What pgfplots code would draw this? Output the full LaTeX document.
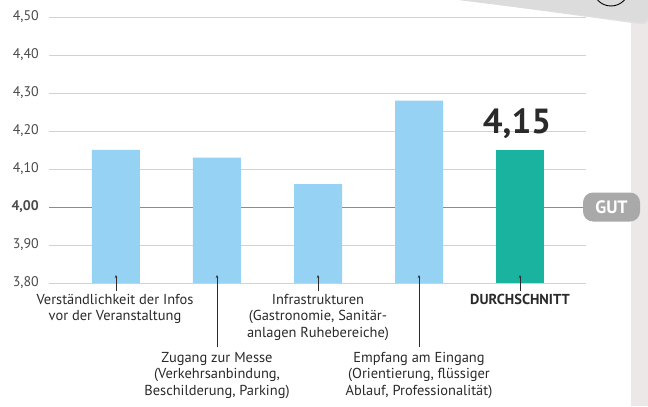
\documentclass[border=0pt]{standalone}
\usepackage{fontspec}
\setmainfont{PT Sans}
\usepackage{pgfplots}
\pgfplotsset{compat=1.18}
\usetikzlibrary{arrows.meta}
\definecolor{barblue}{HTML}{96D2F3}
\definecolor{barteal}{HTML}{1AB39F}
\definecolor{gridc}{HTML}{D2D2D2}
\definecolor{txt}{HTML}{2A2A2A}
\definecolor{panel}{HTML}{ECE8E7}
\definecolor{deco}{HTML}{DCDCDC}
\definecolor{gutc}{HTML}{A9A9A9}
\begin{document}
\begin{tikzpicture}[x=1bp,y=1bp]
\useasboundingbox (0,0) rectangle (648,406);
% right panel
\fill[panel] (631,0) rectangle (648,406);
% top-right decoration
\fill[black!12] (462,406) -- (640,382) to[out=-10,in=-90] (648,386) -- (648,406) -- cycle;
\fill[deco] (458,406) -- (638,384) to[out=-8,in=-90] (648,390) -- (648,406) -- cycle;
\begin{scope}
\clip (458,406) -- (638,384) to[out=-8,in=-90] (648,390) -- (648,406) -- cycle;
\draw[black, line width=0.9bp] (611,418) circle (18);
\end{scope}
\begin{axis}[
  at={(49bp,123bp)}, anchor=south west,
  scale only axis, width=537bp, height=266bp,
  xmin=-0.663, xmax=4.653, ymin=3.8, ymax=4.5,
  axis line style={draw=none},
  ytick={3.8,3.9,4.1,4.2,4.3,4.4,4.5},
  yticklabels={3{,}80,3{,}90,4{,}10,4{,}20,4{,}30,4{,}40,4{,}50},
  extra y ticks={4},
  extra y tick labels={\textbf{4{,}00}},
  extra y tick style={grid style={color=black!45, line width=0.9bp}},
  ymajorgrids, grid style={gridc, line width=0.9bp},
  major tick length=0pt,
  xtick=\empty,
  yticklabel style={font=\fontsize{14}{16}\selectfont, text=txt!85, anchor=east, inner xsep=0pt, xshift=-10bp},
  /pgf/number format/assume math mode=true,
  ybar, bar width=48bp,
]
\addplot[fill=barblue, draw=none, bar shift=0pt] coordinates {(0,4.15) (1,4.13) (2,4.06) (3,4.28)};
\addplot[fill=barteal, draw=none, bar shift=0pt] coordinates {(4,4.15)};
\end{axis}
% gridline at 4.00 continues to GUT box
\draw[black!45, line width=0.9bp] (586,199) -- (590,199);
% GUT box
\node[fill=gutc, rounded corners=10bp, minimum width=57bp, minimum height=29bp, inner sep=0pt, text=white, font=\fontsize{18}{20}\selectfont\bfseries] at (611.5,199) {GUT};
% big value
\node[anchor=base, text=txt, font=\fontsize{35}{40}\selectfont\bfseries, inner sep=0pt] at (517,273) {4,15};
% pointer lines
\begin{scope}[txt, line width=0.8bp, -{Stealth[length=3bp,width=2.5bp]}]
\draw (116,115) -- (116,131);
\draw (217,59) -- (217,131);
\draw (318,115) -- (318,131);
\draw (419,59) -- (419,131);
\draw (520,115) -- (520,131);
\end{scope}
% category labels
\begin{scope}[every node/.style={align=center, text=txt, inner sep=0pt, anchor=north, font=\fontsize{14.5}{16.5}\selectfont}]
\node at (115,112) {Verständlichkeit der Infos\\vor der Veranstaltung};
\node at (217,54) {Zugang zur Messe\\(Verkehrsanbindung,\\Beschilderung, Parking)};
\node at (318,112) {Infrastrukturen\\(Gastronomie, Sanitär-\\anlagen Ruhebereiche)};
\node at (419,54) {Empfang am Eingang\\(Orientierung, flüssiger\\Ablauf, Professionalität)};
\node[font=\fontsize{14.5}{16.5}\selectfont\bfseries] at (520,112) {DURCHSCHNITT};
\end{scope}
\end{tikzpicture}
\end{document}
